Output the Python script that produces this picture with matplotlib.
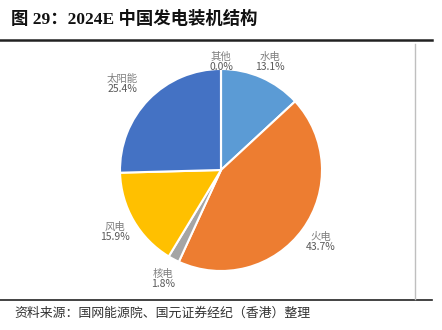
import matplotlib
matplotlib.use("Agg")
import matplotlib.pyplot as plt
from matplotlib.lines import Line2D

plt.rcParams['font.family'] = ['Noto Sans CJK SC', 'DejaVu Sans']

# 2024E installed capacity mix (%)
sources = ['水电', '火电', '核电', '风电', '太阳能', '其他']
shares = [13.1, 43.7, 1.8, 15.9, 25.4, 0.0]
colors = ['#5B9BD5', '#ED7D31', '#A5A5A5', '#FFC000', '#4472C4', '#70AD47']

W, H = 442, 330
fig = plt.figure(figsize=(W / 100, H / 100), dpi=100)
fig.patch.set_facecolor('white')

# pie centre and radius in pixels
cx, cy, r = 221, 170, 101
span = 1.25 * r
ax = fig.add_axes([(cx - span) / W, (H - cy - span) / H, 2 * span / W, 2 * span / H])

wedges, names, pcts = ax.pie(
    shares, labels=sources, colors=colors, startangle=90, counterclock=False,
    autopct=lambda p: f'{p:.1f}%', labeldistance=1.22, pctdistance=1.22,
    wedgeprops=dict(edgecolor='white', linewidth=1.5),
    textprops=dict(fontsize=7.5),
)
for name, pct, v in zip(names, pcts, shares):
    x, y = name.get_position()
    # keep labels above the pie tucked in closer to the rim
    y = min(y, 1.07)
    if x < -0.8 and y > 0:
        x -= 0.1
    name.set_position((x, y))
    pct.set_position((x, y))
    name.set_ha('center')
    name.set_va('bottom')
    name.set_color('#7F7F7F')
    pct.set_text(f'{v:.1f}%')
    pct.set_ha('center')
    pct.set_va('top')
    pct.set_color('#595959')
    pct.set_fontsize(7.5)
ax.set_xlim(-1.25, 1.25)
ax.set_ylim(-1.25, 1.25)
ax.axis('off')

# title and rules
fig.text(11 / W, 1 - 19 / H, '图 29：2024E 中国发电装机结构',
         family=['Liberation Serif', 'Noto Sans CJK SC'], fontweight='bold',
         fontsize=12.5, color='#111111', va='center', ha='left')
fig.add_artist(Line2D([0, 432 / W], [1 - 40 / H] * 2, color='#222222', lw=1.8))
fig.add_artist(Line2D([0, 432 / W], [1 - 300 / H] * 2, color='#222222', lw=1.2))
fig.add_artist(Line2D([415 / W] * 2, [1 - 44 / H, 1 - 299 / H], color='#BFBFBF', lw=1.0))

fig.text(14 / W, 1 - 313 / H, '资料来源：国网能源院、国元证券经纪（香港）整理',
         fontsize=9.3, color='#333333', va='center', ha='left')

fig.savefig('out.png', dpi=100, facecolor='white')
